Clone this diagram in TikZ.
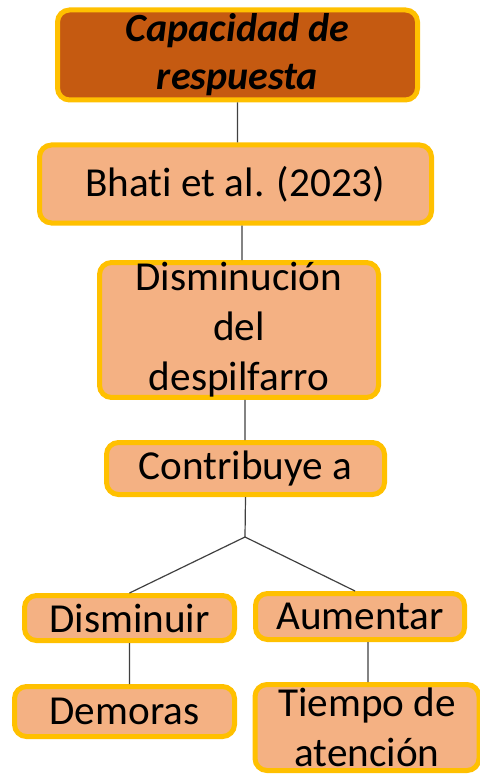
\documentclass[tikz,border=0pt]{standalone}
\usepackage{fontspec}
\setmainfont{Carlito}[Ligatures=NoCommon]
\usepackage{tikz}

\definecolor{boxfill}{HTML}{F4B183}
\definecolor{topfill}{HTML}{C55A11}
\definecolor{boxline}{HTML}{FFC000}
\definecolor{linkcol}{HTML}{404040}

\begin{document}
\begin{tikzpicture}[x=0.5pt, y=-0.5pt, semithick]

        \tikzstyle{box}=[draw=boxline, fill=boxfill, line width=2.5pt, rounded corners=6pt,
                         inner sep=0pt, align=center, text=black,
                         font=\fontsize{20.6}{25}\selectfont]
        \tikzstyle{head}=[box, fill=topfill, font=\fontsize{20}{24}\selectfont\bfseries\itshape]
        \tikzstyle{link}=[draw=linkcol, line width=0.6pt]

        \useasboundingbox (0,0) rectangle (480,775);

        \node[head, minimum width=180pt, minimum height=45pt]   (cap)    at (237.5,55) {Capacidad de\\respuesta};
        \node[box, minimum width=196pt, minimum height=39pt]    (bhati)  at (235.5,184) {Bhati et al. (2023)};
        \node[box, minimum width=139.5pt, minimum height=64.5pt] (desp)  at (239,330) {Disminución\\del\\despilfarro};
        \node[box, minimum width=139pt, minimum height=26pt]    (contr)  at (245.5,468.5) {Contribuye a};
        \node[box, minimum width=105pt, minimum height=22.5pt]  (dismi)  at (129.5,618) {Disminuir};
        \node[box, minimum width=104.5pt, minimum height=23pt]  (aumen)  at (360,616.5) {Aumentar};
        \node[box, minimum width=110pt, minimum height=25pt]    (demor)  at (124.5,711.5) {Demoras};
        \node[box, minimum width=112pt, minimum height=43pt]    (tiemp)  at (367,727.5) {Tiempo de\\atención};

        \coordinate (split) at (245,537);

        \path[link]
        (cap.south)   -- (cap.south |- bhati.north)
        ([xshift=1.5pt]desp.north |- bhati.south) -- ([xshift=1.5pt]desp.north)
        ([xshift=3pt]desp.south) -- ([xshift=3pt]desp.south |- contr.north)
        (contr.south) -- (split)
        (split)       -- (dismi.north)
        (split)       -- ([xshift=-2.5pt]aumen.north)
        (dismi.south) -- (dismi.south |- demor.north)
        ([xshift=4pt]aumen.south) -- ([xshift=4pt]aumen.south |- tiemp.north)
        ;
\end{tikzpicture}
\end{document}
